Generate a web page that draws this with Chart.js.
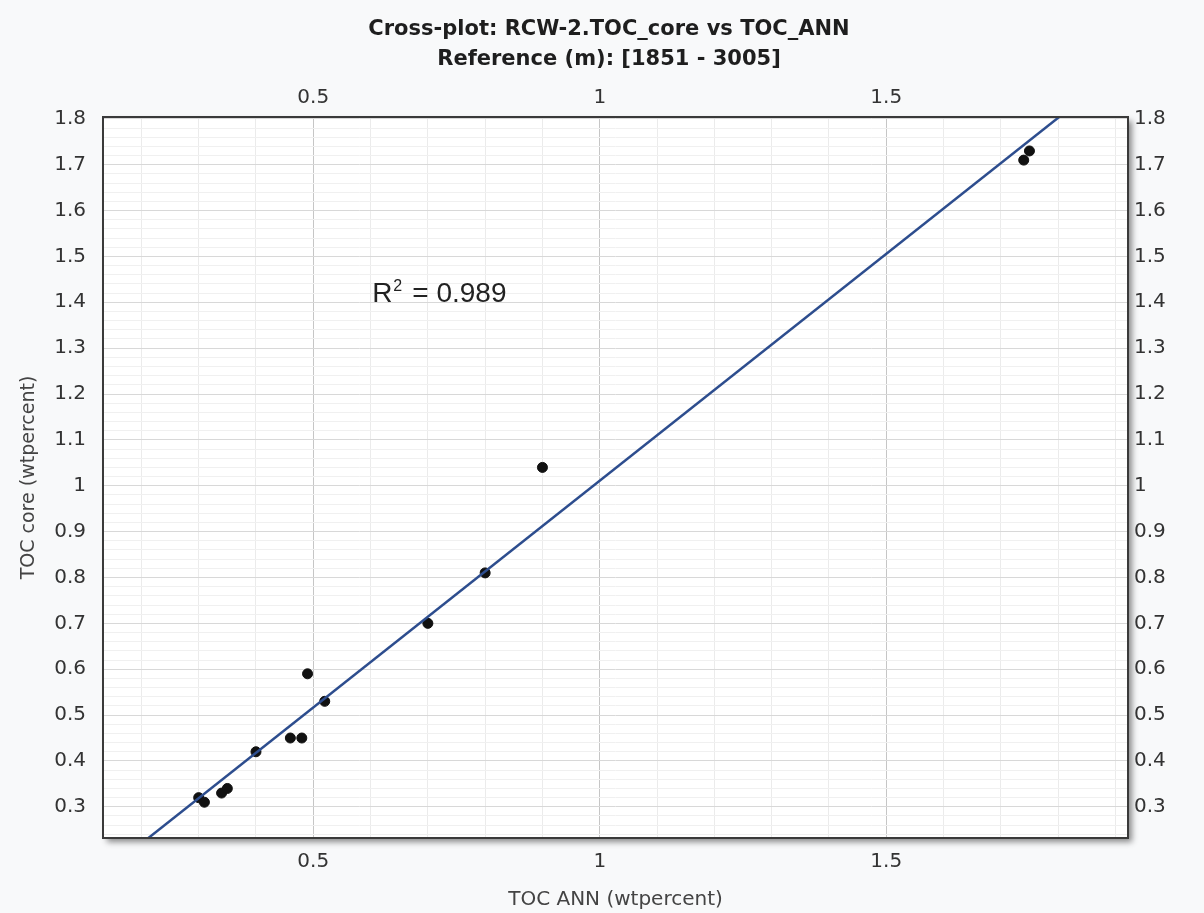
<!DOCTYPE html>
<html>
<head>
<meta charset="utf-8">
<script src="https://cdn.jsdelivr.net/npm/chart.js@4.4.0/dist/chart.umd.min.js"></script>
<style>
  html, body { margin: 0; padding: 0; background: #f8f9fa; }
  #wrap { width: 1204px; height: 913px; }
</style>
</head>
<body>
<div id="wrap"><canvas id="chart" width="1204" height="913"></canvas></div>
<script>
const titleLines = ["Cross-plot: RCW-2.TOC_core vs TOC_ANN", "Reference (m): [1851 - 3005]"];
const xTitle = "TOC ANN (wtpercent)";
const yTitle = "TOC core (wtpercent)";

// core measurements vs ANN prediction
const tocAnn  = [0.30, 0.31, 0.34, 0.35, 0.40, 0.46, 0.48, 0.49, 0.52, 0.70, 0.80, 0.90, 1.74, 1.75];
const tocCore = [0.32, 0.31, 0.33, 0.34, 0.42, 0.45, 0.45, 0.59, 0.53, 0.70, 0.81, 1.04, 1.71, 1.73];

// regression line ends
const fitX = [0.1, 2.0];
const fitY = [0.121, 2.0];

const r2Value = "0.989";
const r2At = [0.603, 1.40];

const xRange = [0.133, 1.922];
const yRange = [0.232, 1.804];

const FONT = "'DejaVu Sans', Verdana, sans-serif";

function isMultiple(v, step) {
  const q = v / step;
  return Math.abs(q - Math.round(q)) < 1e-6;
}

function fmt(v) {
  return String(Math.round(v * 10) / 10);
}

const framePlugin = {
  id: "frame",
  beforeDraw(chart) {
    const {ctx, chartArea: a} = chart;
    ctx.save();
    ctx.fillStyle = "#f8f9fa";
    ctx.fillRect(0, 0, chart.width, chart.height);
    ctx.shadowColor = "rgba(0,0,0,0.45)";
    ctx.shadowBlur = 6;
    ctx.shadowOffsetX = 4;
    ctx.shadowOffsetY = 4;
    ctx.fillStyle = "#ffffff";
    ctx.fillRect(a.left, a.top, a.right - a.left, a.bottom - a.top);
    ctx.restore();
  },
  afterDraw(chart) {
    const {ctx, chartArea: a, scales} = chart;
    ctx.save();
    ctx.strokeStyle = "#3a3a3a";
    ctx.lineWidth = 2;
    ctx.strokeRect(a.left, a.top, a.right - a.left, a.bottom - a.top);

    // title
    ctx.fillStyle = "#1e1e1e";
    ctx.textAlign = "center";
    ctx.textBaseline = "middle";
    ctx.font = "bold 21px " + FONT;
    ctx.fillText(titleLines[0], chart.width / 2 + 7, 30);
    ctx.fillText(titleLines[1], chart.width / 2 + 7, 60);

    // R² note
    const x = scales.x.getPixelForValue(r2At[0]);
    const y = scales.y.getPixelForValue(r2At[1]);
    ctx.fillStyle = "#222";
    ctx.textAlign = "left";
    ctx.textBaseline = "alphabetic";
    ctx.font = "28px 'Liberation Sans', Arial, sans-serif";
    ctx.fillText("R", x, y);
    ctx.font = "16px 'Liberation Sans', Arial, sans-serif";
    ctx.fillText("2", x + 21, y - 11);
    ctx.font = "28px 'Liberation Sans', Arial, sans-serif";
    ctx.fillText("= " + r2Value, x + 40, y);
    ctx.restore();
  }
};

const tickFont = {family: FONT, size: 20};

new Chart(document.getElementById("chart"), {
  type: "scatter",
  data: {
    datasets: [
      {
        label: "fit",
        type: "line",
        data: fitX.map((v, i) => ({x: v, y: fitY[i]})),
        borderColor: "#2d4d8e",
        borderWidth: 2.5,
        pointRadius: 0,
        fill: false
      },
      {
        label: "TOC",
        data: tocAnn.map((v, i) => ({x: v, y: tocCore[i]})),
        backgroundColor: "#111",
        borderColor: "#111",
        pointRadius: 5,
        pointHoverRadius: 5
      }
    ]
  },
  options: {
    responsive: false,
    animation: false,
    layout: {padding: 0},
    plugins: {
      legend: {display: false},
      title: {display: false},
      tooltip: {enabled: false}
    },
    scales: {
      x: {
        type: "linear",
        position: "bottom",
        min: xRange[0],
        max: xRange[1],
        afterFit: s => { s.height = 75; },
        border: {display: false},
        grid: {
          drawTicks: false,
          color: c => isMultiple(c.tick.value, 0.5) ? "#c6c6c6" : "#ebebeb",
          lineWidth: 1
        },
        ticks: {
          stepSize: 0.1,
          includeBounds: false,
          autoSkip: false,
          maxRotation: 0,
          padding: 12,
          color: "#333",
          font: tickFont,
          callback: v => isMultiple(v, 0.5) ? fmt(v) : ""
        },
        title: {
          display: true,
          text: xTitle,
          color: "#444",
          font: {family: FONT, size: 20},
          padding: {top: 0, bottom: 1}
        }
      },
      x2: {
        type: "linear",
        position: "top",
        min: xRange[0],
        max: xRange[1],
        afterFit: s => { s.height = 117; },
        border: {display: false},
        grid: {display: false, drawTicks: false},
        ticks: {
          stepSize: 0.5,
          includeBounds: false,
          maxRotation: 0,
          padding: 7,
          color: "#333",
          font: tickFont,
          callback: v => fmt(v)
        }
      },
      y: {
        type: "linear",
        position: "left",
        min: yRange[0],
        max: yRange[1],
        afterFit: s => { s.width = 103; },
        border: {display: false},
        grid: {
          drawTicks: false,
          color: c => isMultiple(c.tick.value, 0.1) ? "#d8d8d8" : "#f0f0f0",
          lineWidth: 1
        },
        ticks: {
          stepSize: 0.02,
          includeBounds: false,
          autoSkip: false,
          padding: 17,
          color: "#333",
          font: tickFont,
          callback: v => isMultiple(v, 0.1) ? fmt(v) : ""
        },
        title: {
          display: true,
          text: yTitle,
          color: "#444",
          font: {family: FONT, size: 19},
          padding: {top: 18, bottom: 0}
        }
      },
      y2: {
        type: "linear",
        position: "right",
        min: yRange[0],
        max: yRange[1],
        afterFit: s => { s.width = 76; },
        border: {display: false},
        grid: {display: false, drawTicks: false},
        ticks: {
          stepSize: 0.1,
          includeBounds: false,
          padding: 6,
          color: "#333",
          font: tickFont,
          callback: v => fmt(v)
        }
      }
    }
  },
  plugins: [framePlugin]
});
</script>
</body>
</html>
